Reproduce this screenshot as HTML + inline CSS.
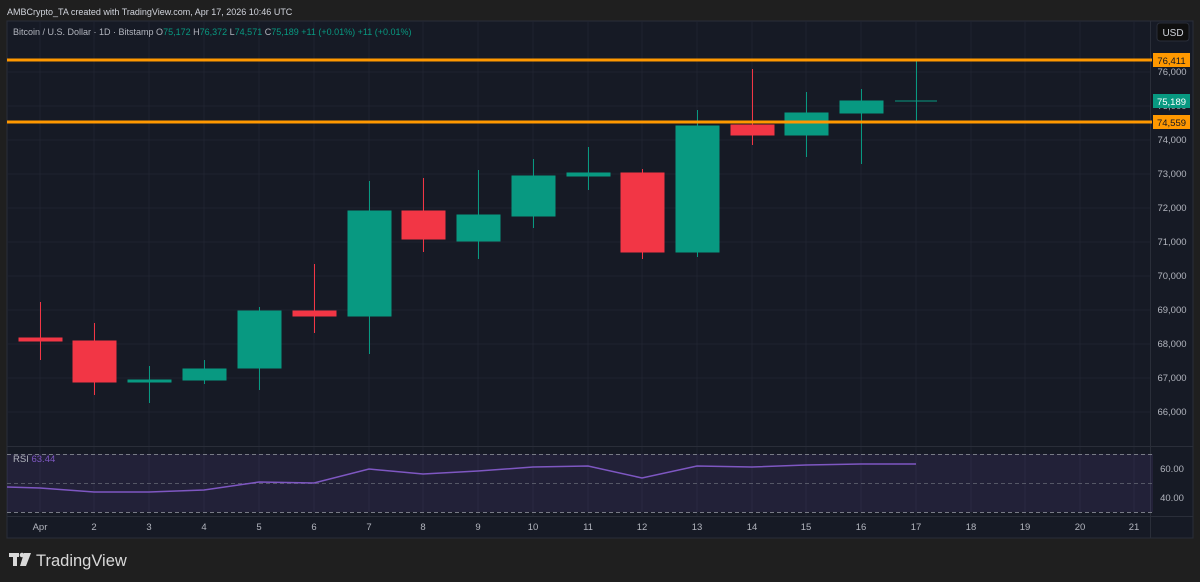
<!DOCTYPE html><html><head><style>
body{margin:0;width:1200px;height:582px;background:#1e1e1e;overflow:hidden;font-family:"Liberation Sans",sans-serif}
</style></head><body>
<svg width="1200" height="582" xmlns="http://www.w3.org/2000/svg" style="position:absolute;left:0;top:0">
<rect x="0" y="0" width="1200" height="582" fill="#1f1f1f"/>
<text x="7" y="15" fill="#d1d4dc" font-size="9">AMBCrypto_TA created with TradingView.com, Apr 17, 2026 10:46 UTC</text>
<rect x="7" y="21" width="1186" height="517" fill="#161a25" stroke="#2a2e39"/>
<g stroke="#1f2330" stroke-width="1">
<line x1="40" y1="21" x2="40" y2="516"/><line x1="94" y1="21" x2="94" y2="516"/><line x1="149" y1="21" x2="149" y2="516"/><line x1="204" y1="21" x2="204" y2="516"/><line x1="259" y1="21" x2="259" y2="516"/><line x1="314" y1="21" x2="314" y2="516"/><line x1="369" y1="21" x2="369" y2="516"/><line x1="423" y1="21" x2="423" y2="516"/><line x1="478" y1="21" x2="478" y2="516"/><line x1="533" y1="21" x2="533" y2="516"/><line x1="588" y1="21" x2="588" y2="516"/><line x1="642" y1="21" x2="642" y2="516"/><line x1="697" y1="21" x2="697" y2="516"/><line x1="752" y1="21" x2="752" y2="516"/><line x1="806" y1="21" x2="806" y2="516"/><line x1="861" y1="21" x2="861" y2="516"/><line x1="916" y1="21" x2="916" y2="516"/><line x1="971" y1="21" x2="971" y2="516"/><line x1="1025" y1="21" x2="1025" y2="516"/><line x1="1080" y1="21" x2="1080" y2="516"/><line x1="1134" y1="21" x2="1134" y2="516"/>
<line x1="7" y1="72" x2="1150" y2="72"/><line x1="7" y1="106" x2="1150" y2="106"/><line x1="7" y1="140" x2="1150" y2="140"/><line x1="7" y1="174" x2="1150" y2="174"/><line x1="7" y1="208" x2="1150" y2="208"/><line x1="7" y1="242" x2="1150" y2="242"/><line x1="7" y1="276" x2="1150" y2="276"/><line x1="7" y1="310" x2="1150" y2="310"/><line x1="7" y1="344" x2="1150" y2="344"/><line x1="7" y1="378" x2="1150" y2="378"/><line x1="7" y1="412" x2="1150" y2="412"/>
</g>
<line x1="7" y1="446.5" x2="1193" y2="446.5" stroke="#2a2e39"/>
<line x1="7" y1="516.5" x2="1193" y2="516.5" stroke="#2a2e39"/>
<line x1="1150.5" y1="21" x2="1150.5" y2="538" stroke="#2a2e39"/>
<text x="13" y="35" fill="#b2b5be" font-size="9">Bitcoin / U.S. Dollar · 1D · Bitstamp <tspan fill="#b2b5be">O</tspan><tspan fill="#089981">75,172</tspan> <tspan fill="#b2b5be">H</tspan><tspan fill="#089981">76,372</tspan> <tspan fill="#b2b5be">L</tspan><tspan fill="#089981">74,571</tspan> <tspan fill="#b2b5be">C</tspan><tspan fill="#089981">75,189 +11 (+0.01%) +11 (+0.01%)</tspan></text>
<g font-size="9.5" fill="#b2b5be" text-anchor="middle">
<text x="1172" y="75">76,000</text><text x="1172" y="143">74,000</text><text x="1172" y="177">73,000</text><text x="1172" y="211">72,000</text><text x="1172" y="245">71,000</text><text x="1172" y="279">70,000</text><text x="1172" y="313">69,000</text><text x="1172" y="347">68,000</text><text x="1172" y="381">67,000</text><text x="1172" y="415">66,000</text>
<text x="1172" y="472">60.00</text><text x="1172" y="501">40.00</text>
</g>
<rect x="1157" y="23" width="32" height="18" rx="3" fill="#0f0f0f" stroke="#2a2e39"/>
<text x="1173" y="36" fill="#d1d4dc" font-size="10" text-anchor="middle">USD</text>
<g stroke-width="1">
<g stroke="#f23645" fill="#f23645">
<line x1="40.5" y1="302" x2="40.5" y2="360"/><rect x="19" y="338" width="43" height="3"/>
<line x1="94.5" y1="323" x2="94.5" y2="395"/><rect x="73" y="341" width="43" height="41"/>
<line x1="314.5" y1="264" x2="314.5" y2="333"/><rect x="293" y="311" width="43" height="5"/>
<line x1="423.5" y1="178" x2="423.5" y2="252"/><rect x="402" y="211" width="43" height="28"/>
<line x1="642.5" y1="169" x2="642.5" y2="259"/><rect x="621" y="173" width="43" height="79"/>
<line x1="752.5" y1="69" x2="752.5" y2="145"/><rect x="731" y="125" width="43" height="10"/>
</g>
<g stroke="#089981" fill="#089981">
<line x1="149.5" y1="366" x2="149.5" y2="403"/><rect x="128" y="380" width="43" height="2"/>
<line x1="204.5" y1="360" x2="204.5" y2="384"/><rect x="183" y="369" width="43" height="11"/>
<line x1="259.5" y1="307" x2="259.5" y2="390"/><rect x="238" y="311" width="43" height="57"/>
<line x1="369.5" y1="181" x2="369.5" y2="354"/><rect x="348" y="211" width="43" height="105"/>
<line x1="478.5" y1="170" x2="478.5" y2="259"/><rect x="457" y="215" width="43" height="26"/>
<line x1="533.5" y1="159" x2="533.5" y2="228"/><rect x="512" y="176" width="43" height="40"/>
<line x1="588.5" y1="147" x2="588.5" y2="190"/><rect x="567" y="173" width="43" height="3"/>
<line x1="697.5" y1="110" x2="697.5" y2="257"/><rect x="676" y="126" width="43" height="126"/>
<line x1="806.5" y1="92" x2="806.5" y2="157"/><rect x="785" y="113" width="43" height="22"/>
<line x1="861.5" y1="89" x2="861.5" y2="164"/><rect x="840" y="101" width="43" height="12"/>
<line x1="916.5" y1="61" x2="916.5" y2="122"/><line x1="895" y1="101" x2="937" y2="101"/>
</g>
</g>
<line x1="7" y1="60" x2="1152" y2="60" stroke="#ff9800" stroke-width="3"/>
<line x1="7" y1="122" x2="1152" y2="122" stroke="#ff9800" stroke-width="3"/>
<rect x="1153" y="53" width="37" height="14" fill="#ff9800"/><text x="1171.5" y="64" font-size="9.5" fill="#131722" text-anchor="middle">76,411</text>
<text x="1172" y="109" fill="#b2b5be" font-size="9.5" text-anchor="middle">75,000</text>
<rect x="1153" y="94" width="37" height="14" fill="#089981"/><text x="1171.5" y="105" font-size="9.5" fill="#fff" text-anchor="middle">75,189</text>
<rect x="1153" y="115" width="37" height="14" fill="#ff9800"/><text x="1171.5" y="126" font-size="9.5" fill="#131722" text-anchor="middle">74,559</text>
<rect x="7" y="454" width="1146" height="58" fill="#7e57c2" fill-opacity="0.12"/>
<g stroke="#787b86" stroke-dasharray="4,3" stroke-width="1">
<line x1="7" y1="454.5" x2="1153" y2="454.5"/><line x1="7" y1="483.5" x2="1153" y2="483.5" stroke-opacity="0.6"/><line x1="7" y1="512.5" x2="1153" y2="512.5"/>
</g>
<polyline fill="none" stroke="#7e57c2" stroke-width="1.5" points="7,487 40,488 94,492 149,492 204,490 259,482 314,483 369,469 423,474 478,471 533,467 588,466 642,478 697,466 752,467 806,465 861,464 916,464"/>
<text x="13" y="462" font-size="9.5" fill="#b2b5be">RSI <tspan fill="#7e57c2">63.44</tspan></text>
<g font-size="9.5" fill="#b2b5be" text-anchor="middle">
<text x="40" y="530">Apr</text><text x="94" y="530">2</text><text x="149" y="530">3</text><text x="204" y="530">4</text><text x="259" y="530">5</text><text x="314" y="530">6</text><text x="369" y="530">7</text><text x="423" y="530">8</text><text x="478" y="530">9</text><text x="533" y="530">10</text><text x="588" y="530">11</text><text x="642" y="530">12</text><text x="697" y="530">13</text><text x="752" y="530">14</text><text x="806" y="530">15</text><text x="861" y="530">16</text><text x="916" y="530">17</text><text x="971" y="530">18</text><text x="1025" y="530">19</text><text x="1080" y="530">20</text><text x="1134" y="530">21</text>
</g>
<g fill="#d9d9d9">
<rect x="9" y="553" width="10" height="4"/><rect x="13" y="553" width="4" height="13"/>
<circle cx="22" cy="555" r="2.3"/><path d="M24 553 H31 L26 566 H20 Z"/>
</g>
<text x="36" y="566" font-size="16.5" fill="#d9d9d9">TradingView</text>
</svg>
</body></html>
